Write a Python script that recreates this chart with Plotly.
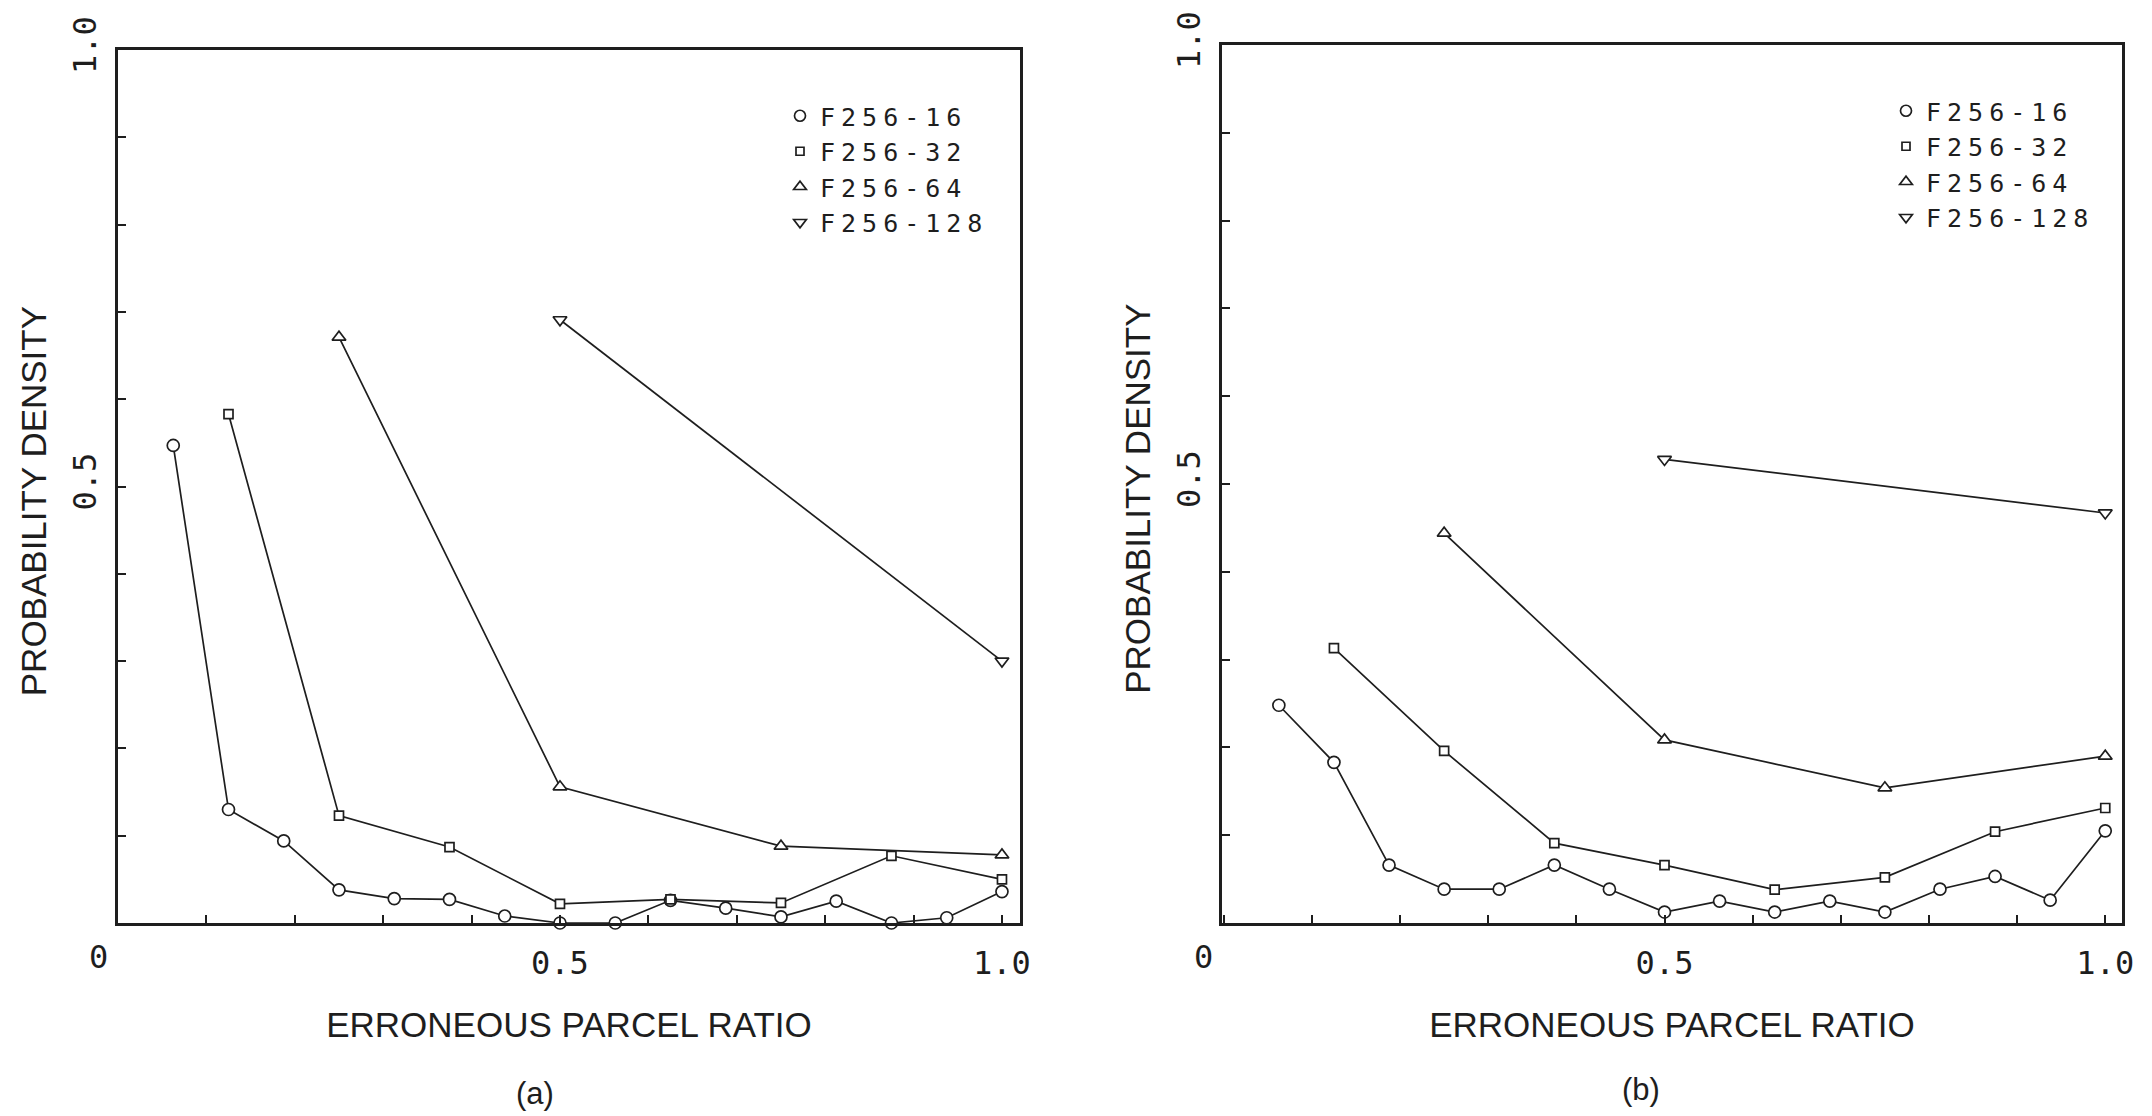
import plotly.graph_objects as go

# ---------------- data ----------------
series_names = ["F256-16", "F256-32", "F256-64", "F256-128"]
symbols = ["circle", "square", "triangle-up", "triangle-down"]
marker_sizes = [12, 9, 12, 12]

x16 = [1/16, 2/16, 3/16, 4/16, 5/16, 6/16, 7/16, 8/16, 9/16, 10/16, 11/16, 12/16, 13/16, 14/16, 15/16, 1.0]
x32 = [1/8, 2/8, 3/8, 4/8, 5/8, 6/8, 7/8, 1.0]
x64 = [0.25, 0.5, 0.75, 1.0]
x128 = [0.5, 1.0]

# panel (a)
a16 = [0.547, 0.130, 0.094, 0.038, 0.028, 0.027, 0.008, 0.0, 0.0, 0.026, 0.017, 0.007, 0.025, 0.0, 0.006, 0.036]
a32 = [0.583, 0.123, 0.087, 0.022, 0.027, 0.023, 0.077, 0.050]
a64 = [0.671, 0.156, 0.088, 0.078]
a128 = [0.691, 0.300]

# panel (b)
b16 = [0.248, 0.183, 0.066, 0.0385, 0.0385, 0.066, 0.0385, 0.0125, 0.025, 0.0125, 0.025, 0.0125, 0.0385, 0.053, 0.026, 0.105]
b32 = [0.313, 0.196, 0.091, 0.066, 0.038, 0.052, 0.104, 0.131]
b64 = [0.444, 0.2085, 0.154, 0.190]
b128 = [0.528, 0.467]

x_tickvals = [0.5, 1.0]
x_ticktext = ["0.5", "1.0"]
y_tickvals = [0.5, 1.0]
y_ticktext = ["0.5", "1.0"]
origin_label = "0"

x_title = "ERRONEOUS PARCEL RATIO"
y_title = "PROBABILITY DENSITY"
panel_labels = ["(a)", "(b)"]

INK = "#1e1e1e"
W, H = 2152, 1116
OFF = 8  # page body margin in the browser


def px(xp):
    return (xp - OFF) / W


def py(yp):
    return (H - (yp - OFF)) / H


def spaced(t, s=5):
    return '<span style="letter-spacing:%dpx">%s</span>' % (s, t)


fig = go.Figure()

panels = [
    ("x", "y", "legend", [a16, a32, a64, a128]),
    ("x2", "y2", "legend2", [b16, b32, b64, b128]),
]
xs = [x16, x32, x64, x128]

for xa, ya, leg, vals in panels:
    for i, name in enumerate(series_names):
        fig.add_trace(go.Scatter(
            x=xs[i], y=vals[i], xaxis=xa, yaxis=ya, mode="lines+markers",
            line=dict(color=INK, width=1.7),
            marker=dict(symbol=symbols[i], size=marker_sizes[i], color="white",
                        line=dict(color=INK, width=1.7)),
            showlegend=False, name=name, cliponaxis=False))
    # legend-only entries (markers only, like the original key)
    for i, name in enumerate(series_names):
        fig.add_trace(go.Scatter(
            x=[None], y=[None], xaxis=xa, yaxis=ya, mode="markers", name=spaced(name, 6),
            marker=dict(symbol=symbols[i], size=marker_sizes[i] - 1, color="white",
                        line=dict(color=INK, width=1.7)),
            legend=leg, showlegend=True))

tickfont = dict(family="DejaVu Sans Mono", size=32, color=INK)
titlefont_x = dict(family="Liberation Sans", size=35, color=INK)
titlefont_y = dict(family="Liberation Sans", size=35, color=INK)


def xaxis_cfg(domain, rng):
    return dict(domain=domain, range=rng, showgrid=False, zeroline=False, automargin=False,
                showline=True, linecolor=INK, linewidth=2.5, mirror=True,
                tickvals=x_tickvals, ticktext=x_ticktext,
                ticks="inside", ticklen=8, tickwidth=2, tickcolor=INK,
                minor=dict(dtick=0.1, tick0=0, ticks="inside", ticklen=8, tickwidth=2, tickcolor=INK),
                tickfont=tickfont, ticklabelstandoff=10,
                title=dict(text=x_title, font=titlefont_x, standoff=32))


def yaxis_cfg(domain, anchor):
    return dict(domain=domain, range=[0, 1], anchor=anchor, showgrid=False, zeroline=False,
                automargin=False,
                showline=True, linecolor=INK, linewidth=2.5, mirror=True,
                tickvals=y_tickvals, ticktext=y_ticktext, tickangle=-90,
                ticks="inside", ticklen=8, tickwidth=2, tickcolor=INK,
                minor=dict(dtick=0.1, tick0=0, ticks="inside", ticklen=8, tickwidth=2, tickcolor=INK),
                tickfont=tickfont, ticklabelstandoff=6,
                title=dict(text=y_title + "&nbsp;&nbsp;&nbsp;", font=titlefont_y, standoff=10))


legend_common = dict(font=dict(family="DejaVu Sans Mono", size=25, color=INK),
                     bgcolor="rgba(0,0,0,0)", borderwidth=0, itemwidth=30,
                     xanchor="left", yanchor="top", tracegroupgap=0)

fig.update_layout(
    width=W, height=H,
    margin=dict(l=0, r=0, t=0, b=0, autoexpand=False),
    paper_bgcolor="white", plot_bgcolor="white",
    xaxis=xaxis_cfg([px(118), px(1020)], [0, 1.0204]),
    yaxis=yaxis_cfg([py(923), py(50)], "x"),
    xaxis2=dict(xaxis_cfg([px(1222), px(2122)], [-0.002, 1.019]), anchor="y2"),
    yaxis2=yaxis_cfg([py(923), py(45)], "x2"),
    legend=dict(legend_common, x=px(780), y=py(93)),
    legend2=dict(legend_common, x=px(1886), y=py(88)),
    annotations=[
        dict(text=origin_label, x=px(98), y=py(957), xref="paper", yref="paper",
             xanchor="center", yanchor="middle", showarrow=False, font=tickfont),
        dict(text=origin_label, x=px(1203), y=py(957), xref="paper", yref="paper",
             xanchor="center", yanchor="middle", showarrow=False, font=tickfont),
        dict(text=panel_labels[0], x=px(535), y=py(1093), xref="paper", yref="paper",
             xanchor="center", yanchor="middle", showarrow=False,
             font=dict(family="Liberation Sans Narrow, Liberation Sans", size=31, color=INK)),
        dict(text=panel_labels[1], x=px(1641), y=py(1089), xref="paper", yref="paper",
             xanchor="center", yanchor="middle", showarrow=False,
             font=dict(family="Liberation Sans Narrow, Liberation Sans", size=31, color=INK)),
    ],
)

fig.write_html("out.html")
